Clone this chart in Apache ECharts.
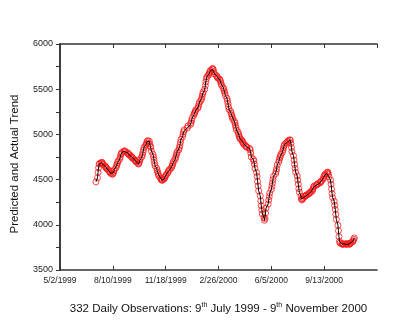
<!DOCTYPE html>
<html>
<head>
<meta charset="utf-8">
<script src="https://cdn.jsdelivr.net/npm/echarts@6/dist/echarts.min.js"></script>
<style>
  html, body { margin: 0; padding: 0; background: #fff; }
  #chart { width: 415px; height: 321px; }
</style>
</head>
<body>
<div id="chart"></div>
<script>
// axis origin: 5/2/1999, x values are days counted from it
var originYear = 1999, originMonth = 4, originDay = 2
var xTickDays = [0, 100, 200, 300, 400, 500, 600]
var yTicks = [3500, 4000, 4500, 5000, 5500, 6000]

// first observation 9 July 1999, weekdays only, minus market holidays
var firstDate = '1999-07-09'
var holidays = [
  '1999-08-30', '1999-09-06', '1999-11-25', '1999-12-24', '1999-12-27', '1999-12-28',
  '1999-12-31', '2000-01-03', '2000-01-17', '2000-02-21', '2000-04-21', '2000-04-24',
  '2000-05-01', '2000-05-29', '2000-06-12', '2000-07-04', '2000-08-28', '2000-09-04'
]

// 332 daily observations (actual and predicted trend lie on top of each other)
var trendValues = [
  4475, 4520, 4580, 4630, 4670, 4680, 4685, 4690, 4688, 4675,
  4665, 4652, 4645, 4635, 4626, 4618, 4605, 4597, 4585, 4578,
  4568, 4560, 4562, 4578, 4595, 4612, 4630, 4652, 4668, 4688,
  4705, 4725, 4748, 4775, 4790, 4800, 4812, 4818, 4815, 4805,
  4797, 4790, 4780, 4772, 4764, 4755, 4748, 4740, 4733, 4722,
  4715, 4708, 4700, 4690, 4678, 4672, 4690, 4712, 4730, 4752,
  4775, 4800, 4828, 4856, 4875, 4890, 4905, 4922, 4930, 4925,
  4895, 4870, 4856, 4815, 4780, 4750, 4715, 4680, 4652, 4625,
  4600, 4580, 4560, 4540, 4520, 4506, 4498, 4492, 4495, 4505,
  4518, 4530, 4545, 4556, 4572, 4590, 4604, 4615, 4630, 4648,
  4665, 4685, 4705, 4725, 4745, 4770, 4790, 4810, 4830, 4855,
  4880, 4912, 4945, 4975, 5005, 5030, 5050, 5070, 5092, 5110,
  5128, 5150, 5180, 5210, 5228, 5240, 5255, 5272, 5290, 5310,
  5335, 5358, 5378, 5395, 5420, 5448, 5470, 5500, 5540, 5580,
  5615, 5638, 5655, 5668, 5682, 5695, 5710, 5722, 5730, 5718,
  5695, 5670, 5652, 5640, 5630, 5622, 5612, 5600, 5582, 5560,
  5540, 5518, 5500, 5478, 5455, 5430, 5400, 5372, 5340, 5305,
  5276, 5255, 5232, 5212, 5192, 5170, 5148, 5128, 5100, 5075,
  5050, 5028, 5005, 4982, 4965, 4950, 4938, 4925, 4912, 4900,
  4890, 4878, 4870, 4862, 4855, 4845, 4830, 4795, 4750, 4725,
  4705, 4670, 4625, 4580, 4535, 4480, 4430, 4375, 4320, 4265,
  4210, 4165, 4120, 4080, 4050, 4070, 4130, 4185, 4230, 4275,
  4312, 4350, 4390, 4425, 4460, 4500, 4535, 4565, 4590, 4620,
  4660, 4695, 4720, 4742, 4760, 4780, 4800, 4825, 4850, 4872,
  4890, 4902, 4912, 4922, 4932, 4940, 4935, 4900, 4855, 4810,
  4765, 4715, 4668, 4625, 4582, 4540, 4495, 4450, 4400, 4360,
  4318, 4285, 4275, 4285, 4298, 4310, 4316, 4322, 4328, 4332,
  4338, 4342, 4350, 4355, 4362, 4370, 4385, 4400, 4418, 4430,
  4438, 4442, 4448, 4455, 4462, 4470, 4476, 4490, 4505, 4520,
  4538, 4550, 4560, 4570, 4580, 4582, 4560, 4530, 4495, 4450,
  4395, 4345, 4300, 4260, 4215, 4170, 4115, 4060, 3995, 3935,
  3870, 3815, 3798, 3790, 3786, 3788, 3785, 3788, 3790, 3786,
  3784, 3788, 3792, 3786, 3785, 3790, 3798, 3805, 3812, 3822, 3838, 3855
]

var DAY = 86400000
var origin = Date.UTC(originYear, originMonth, originDay)

function fmtDay(v) {
  var d = new Date(origin + v * DAY)
  return (d.getUTCMonth() + 1) + '/' + d.getUTCDate() + '/' + d.getUTCFullYear()
}
function isoOf(t) {
  return new Date(t).toISOString().slice(0, 10)
}

// pair each value with its trading day
var points = []
var t = Date.parse(firstDate + 'T00:00:00Z')
var k = 0
while (k < trendValues.length) {
  var wd = new Date(t).getUTCDay()
  if (wd !== 0 && wd !== 6 && holidays.indexOf(isoOf(t)) < 0) {
    points.push([Math.round((t - origin) / DAY), trendValues[k]])
    k++
  }
  t += DAY
}

var axisColor = '#333'
var font = 'Arial, "Liberation Sans", Helvetica, sans-serif'

var chart = echarts.init(document.getElementById('chart'), null, { renderer: 'canvas' })
var option = {
  animation: false,
  backgroundColor: '#fff',
  grid: { left: 60, right: 38, top: 44, bottom: 49 },
  xAxis: [
    {
      type: 'value',
      min: xTickDays[0],
      max: xTickDays[xTickDays.length - 1],
      interval: xTickDays[1] - xTickDays[0],
      splitLine: { show: false },
      axisLine: { lineStyle: { color: axisColor, width: 1.5 } },
      axisTick: { inside: true, length: 4, lineStyle: { color: axisColor, width: 1 } },
      axisLabel: {
        margin: 6,
        fontSize: 8.5,
        fontFamily: font,
        color: '#222',
        showMaxLabel: false,
        formatter: function (v) { return v === xTickDays[xTickDays.length - 1] ? '' : fmtDay(v) }
      },
      name: '332 Daily Observations: 9{sup|th} July 1999 - 9{sup|th} November 2000',
      nameLocation: 'middle',
      nameGap: 32,
      nameTextStyle: {
        fontSize: 11.5,
        fontFamily: font,
        color: '#111',
        lineHeight: 14,
        rich: {
          sup: { fontSize: 7, fontFamily: font, color: '#111', lineHeight: 8, verticalAlign: 'top' }
        }
      }
    },
    {
      type: 'value',
      position: 'top',
      min: xTickDays[0],
      max: xTickDays[xTickDays.length - 1],
      interval: xTickDays[1] - xTickDays[0],
      splitLine: { show: false },
      axisLine: { lineStyle: { color: axisColor, width: 1.5 } },
      axisTick: { inside: true, length: 4, lineStyle: { color: axisColor, width: 1 } },
      axisLabel: { show: false }
    }
  ],
  yAxis: [
    {
      type: 'value',
      min: yTicks[0],
      max: yTicks[yTicks.length - 1],
      interval: yTicks[1] - yTicks[0],
      splitLine: { show: false },
      axisLine: { show: true, lineStyle: { color: axisColor, width: 1.5 } },
      axisTick: { show: true, length: 4, lineStyle: { color: axisColor, width: 1 } },
      minorTick: { show: true, splitNumber: 2, length: 4, lineStyle: { color: axisColor, width: 1 } },
      axisLabel: {
        margin: 7,
        fontSize: 9,
        fontFamily: font,
        color: '#222',
        formatter: function (v) { return String(v) }
      },
      name: 'Predicted and Actual Trend',
      nameLocation: 'middle',
      nameRotate: 90,
      nameGap: 39,
      // nudge the title a little below the plot centre, as in the original
      nameTextStyle: { fontSize: 11.5, fontFamily: font, color: '#111', padding: [0, 14, 0, 0] }
    },
    {
      type: 'value',
      position: 'right',
      min: yTicks[0],
      max: yTicks[yTicks.length - 1],
      interval: yTicks[1] - yTicks[0],
      splitLine: { show: false },
      axisLine: { show: true, lineStyle: { color: axisColor, width: 1.5 } },
      axisTick: { show: true, inside: true, length: 4, lineStyle: { color: axisColor, width: 1 } },
      minorTick: { show: true, splitNumber: 2, length: 4, lineStyle: { color: axisColor, width: 1 } },
      axisLabel: { show: false }
    }
  ],
  series: [
    {
      name: 'Actual',
      type: 'scatter',
      data: points,
      symbol: 'circle',
      symbolSize: 6,
      itemStyle: { color: 'rgba(0,0,0,0)', borderColor: '#ff1a1a', borderWidth: 1 },
      z: 2
    },
    {
      name: 'Predicted',
      type: 'line',
      data: points,
      showSymbol: false,
      symbol: 'none',
      lineStyle: { color: '#000', width: 1 },
      z: 3
    }
  ]
}
chart.setOption(option)
</script>
</body>
</html>
